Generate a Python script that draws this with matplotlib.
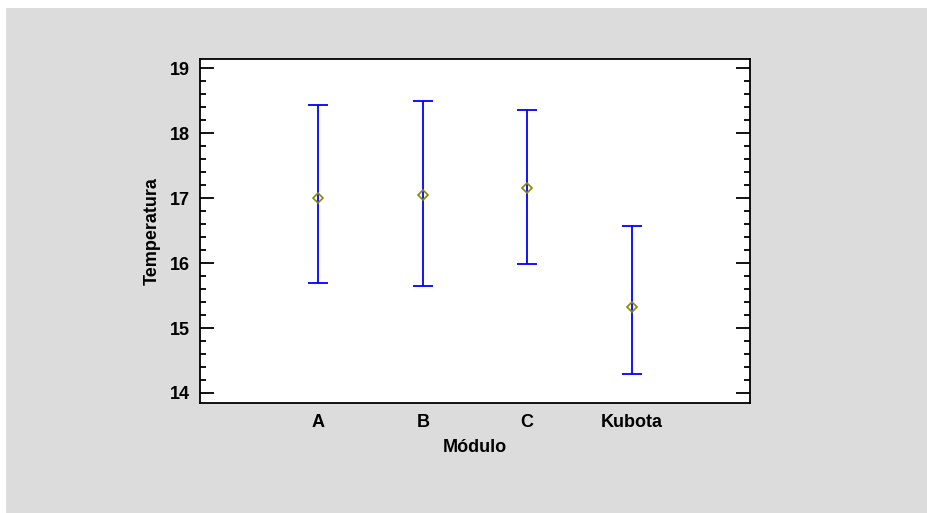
import matplotlib
matplotlib.use("Agg")
import matplotlib.pyplot as plt
from matplotlib.patches import Rectangle
from matplotlib.ticker import MultipleLocator

modulos = ["A", "B", "C", "Kubota"]
media = [17.0, 17.05, 17.15, 15.32]
limite_sup = [18.44, 18.50, 18.35, 16.57]
limite_inf = [15.69, 15.64, 15.98, 14.29]

plt.rcParams["font.family"] = ["Liberation Sans", "DejaVu Sans"]

W, H = 927, 513
fig = plt.figure(figsize=(W / 100, H / 100), dpi=100)
fig.patch.set_facecolor("white")
fig.patches.append(Rectangle((6 / W, 0), 1, 1 - 8 / H, transform=fig.transFigure,
                             facecolor="#dcdcdc", edgecolor="none", zorder=-10))

ax = fig.add_axes([200 / W, 1 - 403 / H, 550 / W, 344 / H])
ax.set_facecolor("white")

pos = list(range(1, len(modulos) + 1))
err_low = [m - lo for m, lo in zip(media, limite_inf)]
err_high = [hi - m for m, hi in zip(media, limite_sup)]
ax.errorbar(pos, media, yerr=[err_low, err_high], fmt="none", ecolor="#0000ff",
            elinewidth=1.3, capsize=7.5, capthick=1.3, zorder=2)
ax.plot(pos, media, linestyle="none", marker="D", markersize=5,
        markerfacecolor="none", markeredgecolor="#8b8b00", markeredgewidth=1.2, zorder=3)

fs = 13
ax.set_xlim(1 - 1.132, 4 + 1.132)
ax.set_ylim(13.846, 19.143)
ax.set_xticks(pos)
ax.set_xticklabels(modulos, fontsize=fs, fontweight="bold")
ax.tick_params(axis="x", length=0, pad=8)
ax.yaxis.set_major_locator(MultipleLocator(1))
ax.yaxis.set_minor_locator(MultipleLocator(0.2))
ax.tick_params(axis="y", which="major", direction="in", length=10, width=1.3,
               right=True, labelsize=fs, pad=7)
ax.tick_params(axis="y", which="minor", direction="in", length=4, width=1.3, right=True)
for lab in ax.get_yticklabels():
    lab.set_fontweight("bold")
for sp in ax.spines.values():
    sp.set_linewidth(1.3)

ax.set_xlabel("Módulo", fontsize=fs, fontweight="bold", labelpad=6)
ax.set_ylabel("Temperatura", fontsize=fs, fontweight="bold", labelpad=7)

fig.savefig("out.png", dpi=100)
